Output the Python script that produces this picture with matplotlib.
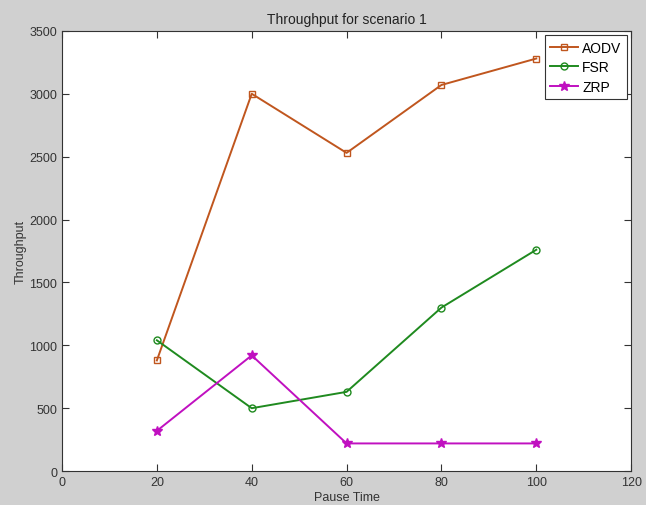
import matplotlib
matplotlib.use("Agg")
import matplotlib.pyplot as plt

pause_time = [20, 40, 60, 80, 100]
aodv = [880, 3000, 2530, 3070, 3280]
fsr = [1040, 500, 630, 1300, 1760]
zrp = [320, 920, 220, 220, 220]

plt.rcParams['font.family'] = ['Liberation Sans', 'DejaVu Sans']

fig = plt.figure(figsize=(6.46, 5.06), dpi=100, facecolor='#d0d0d0')
ax = fig.add_axes([0.096, 0.067, 0.881, 0.870])
ax.set_facecolor('white')

ax.plot(pause_time, aodv, color='#c0561e', marker='s', markersize=5,
        markerfacecolor='none', linewidth=1.4, label='AODV')
ax.plot(pause_time, fsr, color='#1f8a1f', marker='o', markersize=5,
        markerfacecolor='none', linewidth=1.4, label='FSR')
ax.plot(pause_time, zrp, color='#c010c0', marker='*', markersize=7,
        linewidth=1.4, label='ZRP')

ax.set_xlim(0, 120)
ax.set_ylim(0, 3500)
ax.set_xticks(range(0, 121, 20))
ax.set_yticks(range(0, 3501, 500))
ax.tick_params(direction='in', top=True, right=True, labelsize=9,
               colors='#333333', length=5)
for s in ax.spines.values():
    s.set_color('#333333')

ax.set_title('Throughput for scenario 1', fontsize=10, color='#222222')
ax.set_xlabel('Pause Time', fontsize=9, color='#333333', labelpad=2)
ax.set_ylabel('Throughput', fontsize=9, color='#333333', labelpad=2)

leg = ax.legend(loc='upper right', fontsize=10, fancybox=False,
                edgecolor='#333333', framealpha=1, handlelength=2.0,
                handletextpad=0.3, labelspacing=0.4, borderaxespad=0.3)
leg.get_frame().set_linewidth(0.8)

fig.savefig('out.png', dpi=100, facecolor=fig.get_facecolor())
